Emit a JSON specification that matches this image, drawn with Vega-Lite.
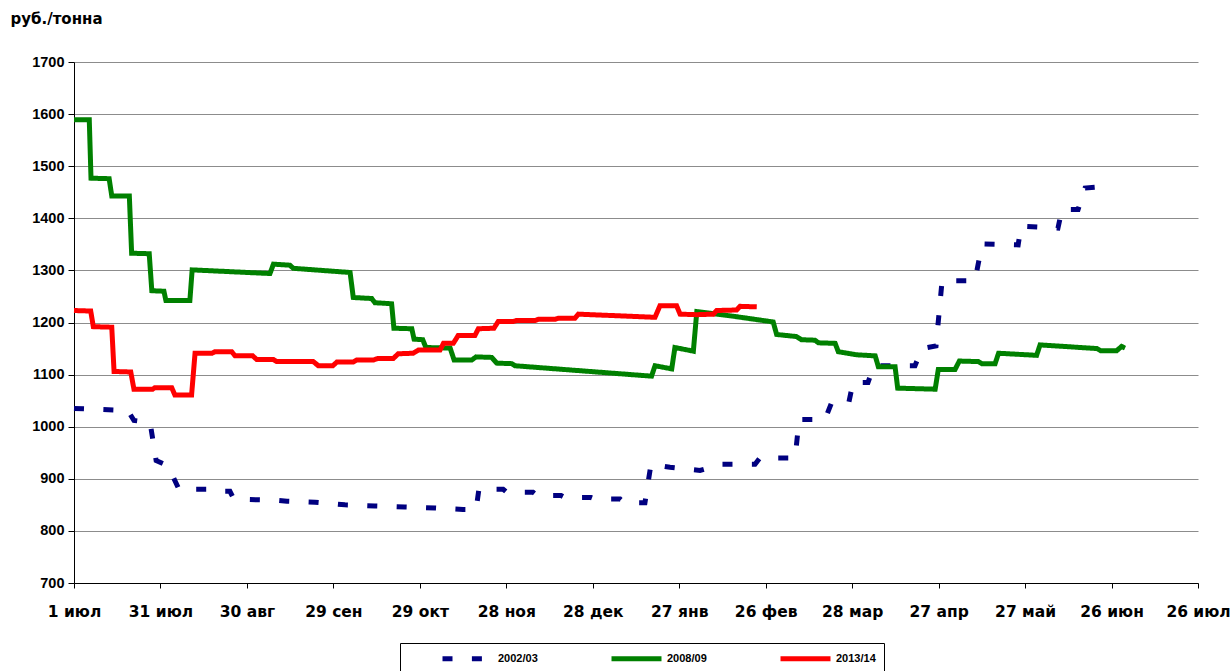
{
  "$schema": "https://vega.github.io/schema/vega-lite/v6.json",
  "width": 1124,
  "height": 521,
  "autosize": {"type": "none"},
  "padding": {"left": 74, "top": 62, "right": 33, "bottom": 88},
  "background": "white",
  "config": {"view": {"stroke": null}, "font": "Liberation Sans"},
  "data": {
    "values": [
      {"season":"2002/03","day":0,"price":1035},{"season":"2002/03","day":18.7,"price":1031},{"season":"2002/03","day":20.8,"price":1012},{"season":"2002/03","day":26.4,"price":1008},{"season":"2002/03","day":28.5,"price":935},{"season":"2002/03","day":32.6,"price":925},{"season":"2002/03","day":36.4,"price":880},{"season":"2002/03","day":47.9,"price":880},{"season":"2002/03","day":50.0,"price":876},{"season":"2002/03","day":54.1,"price":876},{"season":"2002/03","day":55.5,"price":861},{"season":"2002/03","day":69.7,"price":859},{"season":"2002/03","day":73.9,"price":857},{"season":"2002/03","day":83.6,"price":855},{"season":"2002/03","day":94.0,"price":850},{"season":"2002/03","day":104.4,"price":848},{"season":"2002/03","day":114.8,"price":846},{"season":"2002/03","day":125.3,"price":844},{"season":"2002/03","day":135.0,"price":841},{"season":"2002/03","day":139.5,"price":841},{"season":"2002/03","day":140.5,"price":880},{"season":"2002/03","day":148.9,"price":880},{"season":"2002/03","day":150.2,"price":874},{"season":"2002/03","day":159.3,"price":874},{"season":"2002/03","day":160.7,"price":868},{"season":"2002/03","day":169.0,"price":868},{"season":"2002/03","day":170.4,"price":864},{"season":"2002/03","day":179.4,"price":864},{"season":"2002/03","day":180.8,"price":861},{"season":"2002/03","day":189.5,"price":861},{"season":"2002/03","day":190.9,"price":854},{"season":"2002/03","day":198.1,"price":854},{"season":"2002/03","day":200.2,"price":928},{"season":"2002/03","day":206.8,"price":922},{"season":"2002/03","day":217.2,"price":916},{"season":"2002/03","day":224.8,"price":928},{"season":"2002/03","day":236.3,"price":928},{"season":"2002/03","day":238.0,"price":940},{"season":"2002/03","day":250.2,"price":940},{"season":"2002/03","day":251.6,"price":1014},{"season":"2002/03","day":260.6,"price":1014},{"season":"2002/03","day":263.0,"price":1048},{"season":"2002/03","day":268.9,"price":1048},{"season":"2002/03","day":270.3,"price":1085},{"season":"2002/03","day":275.5,"price":1085},{"season":"2002/03","day":277.6,"price":1117},{"season":"2002/03","day":291.8,"price":1117},{"season":"2002/03","day":294.2,"price":1150},{"season":"2002/03","day":299.1,"price":1155},{"season":"2002/03","day":301.2,"price":1280},{"season":"2002/03","day":312.6,"price":1280},{"season":"2002/03","day":315.1,"price":1351},{"season":"2002/03","day":327.6,"price":1349},{"season":"2002/03","day":328.6,"price":1385},{"season":"2002/03","day":341.4,"price":1381},{"season":"2002/03","day":342.8,"price":1417},{"season":"2002/03","day":348.4,"price":1417},{"season":"2002/03","day":350.8,"price":1458},{"season":"2002/03","day":355.3,"price":1460},{"season":"2002/03","day":358.5,"price":1472},

      {"season":"2008/09","day":0,"price":1589},{"season":"2008/09","day":5.3,"price":1589},{"season":"2008/09","day":5.9,"price":1477},{"season":"2008/09","day":12.2,"price":1476},{"season":"2008/09","day":13.1,"price":1443},{"season":"2008/09","day":19.2,"price":1443},{"season":"2008/09","day":20.0,"price":1333},{"season":"2008/09","day":26.1,"price":1332},{"season":"2008/09","day":27.0,"price":1261},{"season":"2008/09","day":31.2,"price":1260},{"season":"2008/09","day":31.9,"price":1242},{"season":"2008/09","day":40.2,"price":1242},{"season":"2008/09","day":41.0,"price":1301},{"season":"2008/09","day":68.0,"price":1294},{"season":"2008/09","day":69.2,"price":1312},{"season":"2008/09","day":74.9,"price":1310},{"season":"2008/09","day":76.1,"price":1304},{"season":"2008/09","day":95.8,"price":1296},{"season":"2008/09","day":96.9,"price":1248},{"season":"2008/09","day":103.3,"price":1246},{"season":"2008/09","day":104.4,"price":1238},{"season":"2008/09","day":110.2,"price":1236},{"season":"2008/09","day":111.0,"price":1189},{"season":"2008/09","day":117.2,"price":1188},{"season":"2008/09","day":118.0,"price":1168},{"season":"2008/09","day":121.0,"price":1167},{"season":"2008/09","day":122.1,"price":1152},{"season":"2008/09","day":130.5,"price":1151},{"season":"2008/09","day":131.9,"price":1128},{"season":"2008/09","day":138.0,"price":1128},{"season":"2008/09","day":139.5,"price":1134},{"season":"2008/09","day":144.9,"price":1133},{"season":"2008/09","day":146.7,"price":1122},{"season":"2008/09","day":151.9,"price":1121},{"season":"2008/09","day":153.0,"price":1117},{"season":"2008/09","day":200.4,"price":1097},{"season":"2008/09","day":201.6,"price":1117},{"season":"2008/09","day":207.4,"price":1111},{"season":"2008/09","day":208.5,"price":1152},{"season":"2008/09","day":214.9,"price":1145},{"season":"2008/09","day":216.1,"price":1221},{"season":"2008/09","day":228.8,"price":1212},{"season":"2008/09","day":242.6,"price":1201},{"season":"2008/09","day":243.8,"price":1177},{"season":"2008/09","day":250.7,"price":1173},{"season":"2008/09","day":252.4,"price":1167},{"season":"2008/09","day":257.1,"price":1166},{"season":"2008/09","day":258.3,"price":1161},{"season":"2008/09","day":264.1,"price":1160},{"season":"2008/09","day":265.2,"price":1144},{"season":"2008/09","day":271.6,"price":1138},{"season":"2008/09","day":278.0,"price":1136},{"season":"2008/09","day":279.1,"price":1115},{"season":"2008/09","day":284.9,"price":1115},{"season":"2008/09","day":285.8,"price":1074},{"season":"2008/09","day":298.8,"price":1072},{"season":"2008/09","day":299.9,"price":1110},{"season":"2008/09","day":305.7,"price":1110},{"season":"2008/09","day":307.2,"price":1126},{"season":"2008/09","day":313.8,"price":1125},{"season":"2008/09","day":315.0,"price":1121},{"season":"2008/09","day":319.6,"price":1121},{"season":"2008/09","day":320.8,"price":1141},{"season":"2008/09","day":334.0,"price":1137},{"season":"2008/09","day":335.2,"price":1157},{"season":"2008/09","day":354.9,"price":1150},{"season":"2008/09","day":356.2,"price":1146},{"season":"2008/09","day":361.8,"price":1146},{"season":"2008/09","day":363.5,"price":1154},{"season":"2008/09","day":364.7,"price":1151},

      {"season":"2013/14","day":0,"price":1223},{"season":"2013/14","day":5.8,"price":1222},{"season":"2013/14","day":6.7,"price":1192},{"season":"2013/14","day":13.1,"price":1191},{"season":"2013/14","day":13.9,"price":1106},{"season":"2013/14","day":19.7,"price":1105},{"season":"2013/14","day":20.8,"price":1072},{"season":"2013/14","day":27.3,"price":1072},{"season":"2013/14","day":28.1,"price":1075},{"season":"2013/14","day":33.9,"price":1075},{"season":"2013/14","day":35.0,"price":1061},{"season":"2013/14","day":40.8,"price":1061},{"season":"2013/14","day":42.0,"price":1141},{"season":"2013/14","day":47.9,"price":1141},{"season":"2013/14","day":48.9,"price":1144},{"season":"2013/14","day":54.7,"price":1144},{"season":"2013/14","day":55.9,"price":1136},{"season":"2013/14","day":62.0,"price":1136},{"season":"2013/14","day":63.4,"price":1129},{"season":"2013/14","day":69.2,"price":1129},{"season":"2013/14","day":70.3,"price":1125},{"season":"2013/14","day":83.0,"price":1125},{"season":"2013/14","day":84.8,"price":1117},{"season":"2013/14","day":89.8,"price":1117},{"season":"2013/14","day":91.2,"price":1124},{"season":"2013/14","day":96.9,"price":1124},{"season":"2013/14","day":98.1,"price":1128},{"season":"2013/14","day":103.9,"price":1128},{"season":"2013/14","day":105.4,"price":1131},{"season":"2013/14","day":110.8,"price":1131},{"season":"2013/14","day":112.5,"price":1140},{"season":"2013/14","day":117.7,"price":1141},{"season":"2013/14","day":119.5,"price":1147},{"season":"2013/14","day":127.0,"price":1147},{"season":"2013/14","day":128.2,"price":1160},{"season":"2013/14","day":131.6,"price":1160},{"season":"2013/14","day":133.3,"price":1175},{"season":"2013/14","day":139.1,"price":1175},{"season":"2013/14","day":140.3,"price":1188},{"season":"2013/14","day":145.7,"price":1189},{"season":"2013/14","day":147.2,"price":1202},{"season":"2013/14","day":152.4,"price":1202},{"season":"2013/14","day":153.6,"price":1204},{"season":"2013/14","day":160.0,"price":1204},{"season":"2013/14","day":161.1,"price":1206},{"season":"2013/14","day":166.9,"price":1206},{"season":"2013/14","day":168.0,"price":1208},{"season":"2013/14","day":173.8,"price":1208},{"season":"2013/14","day":175.0,"price":1216},{"season":"2013/14","day":201.6,"price":1210},{"season":"2013/14","day":203.3,"price":1232},{"season":"2013/14","day":209.1,"price":1232},{"season":"2013/14","day":210.3,"price":1216},{"season":"2013/14","day":216.1,"price":1215},{"season":"2013/14","day":221.8,"price":1216},{"season":"2013/14","day":223.0,"price":1223},{"season":"2013/14","day":229.9,"price":1224},{"season":"2013/14","day":231.1,"price":1231},{"season":"2013/14","day":236.9,"price":1230}
    ]
  },
  "mark": {"type": "line", "strokeWidth": 5, "strokeCap": "butt"},
  "encoding": {
    "x": {
      "field": "day", "type": "quantitative",
      "scale": {"domain": [0, 390], "nice": false, "zero": false},
      "axis": {
        "values": [0,30,60,90,120,150,180,210,240,270,300,330,360,390],
        "labelExpr": "['1 июл','31 июл','30 авг','29 сен','29 окт','28 ноя','28 дек','27 янв','26 фев','28 мар','27 апр','27 май','26 июн','26 июл'][round(datum.value/30)]",
        "title": null, "grid": false,
        "domainColor": "black", "tickColor": "black", "tickSize": 5,
        "labelPadding": 16, "labelFont": "DejaVu Sans", "labelFontSize": 15.5, "labelFontWeight": "bold",
        "labelColor": "black", "labelFlush": false, "labelOverlap": false, "labelBound": false
      }
    },
    "y": {
      "field": "price", "type": "quantitative",
      "scale": {"domain": [700, 1700], "nice": false, "zero": false},
      "axis": {
        "values": [700,800,900,1000,1100,1200,1300,1400,1500,1600,1700],
        "format": "d",
        "title": "руб./тонна", "titleAngle": 0, "titleAlign": "left", "titleBaseline": "middle",
        "titleX": -64, "titleY": -44, "titleFont": "DejaVu Sans", "titleFontSize": 15, "titleFontWeight": "bold", "titleColor": "black",
        "labelFontSize": 14.5, "labelFontWeight": "bold", "labelColor": "black", "labelPadding": 4,
        "gridColor": "#8c8c8c", "gridOpacity": 1, "domainColor": "black", "tickColor": "black", "tickSize": 6
      }
    },
    "color": {
      "field": "season", "type": "nominal",
      "scale": {"domain": ["2002/03","2008/09","2013/14"], "range": ["#000080","#008000","#ff0000"]},
      "legend": {
        "title": null, "orient": "none", "direction": "horizontal", "legendX": 326, "legendY": 581,
        "padding": 8, "strokeColor": "black", "fillColor": "white",
        "symbolType": "M-5,0H5", "symbolSize": 100, "symbolStrokeWidth": 5, "symbolOffset": 52,
        "labelOffset": 23, "columnPadding": 39, "labelFontSize": 11, "labelFontWeight": "bold", "labelColor": "black",
        "labelExpr": "datum.label == '2013/14' ? datum.label + '\u00a0\u00a0\u00a0\u00a0\u00a0\u00a0\u00a0\u00a0\u00a0' : datum.label"
      }
    },
    "strokeDash": {
      "field": "season", "type": "nominal",
      "scale": {"domain": ["2002/03","2008/09","2013/14"], "range": [[10,19.4],[1,0],[1,0]]},
      "legend": {
        "title": null, "orient": "none", "direction": "horizontal", "legendX": 326, "legendY": 581,
        "padding": 8, "strokeColor": "black", "fillColor": "white",
        "symbolType": "M-5,0H5", "symbolSize": 100, "symbolStrokeWidth": 5, "symbolOffset": 52,
        "labelOffset": 23, "columnPadding": 39, "labelFontSize": 11, "labelFontWeight": "bold", "labelColor": "black",
        "labelExpr": "datum.label == '2013/14' ? datum.label + '\u00a0\u00a0\u00a0\u00a0\u00a0\u00a0\u00a0\u00a0\u00a0' : datum.label"
      }
    }
  }
}
